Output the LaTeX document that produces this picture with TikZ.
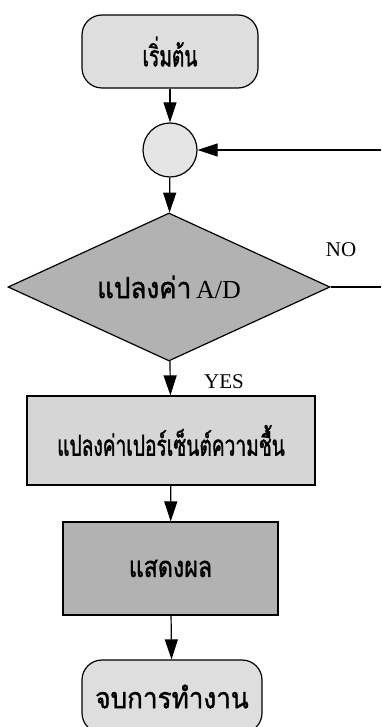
\documentclass[tikz,border=0pt]{standalone}
\usepackage{fontspec}
\setmainfont{Liberation Serif}
\newfontfamily\thaifont[Script=Thai, FakeStretch=0.66, FakeBold=1.2]{Loma}
\newfontfamily\thaimid[Script=Thai, FakeStretch=0.8, FakeBold=1.2]{Loma}
\newfontfamily\thaiwide[Script=Thai, FakeStretch=0.9, FakeBold=1.2]{Loma}
\usetikzlibrary{shapes.geometric, arrows.meta}

\tikzset{
    flowline/.style={line width=1.2pt},
    flowarrow/.style={flowline, -{Triangle[length=20pt,width=13pt]}},
    thaitext/.style={font=\thaifont\fontsize{29}{32}\selectfont},
    termbox/.style={draw, line width=1.2pt, rounded corners=20pt, fill=black!13, inner sep=0pt, thaitext},
    procbox/.style={draw, line width=1.2pt, fill=black!16, inner sep=0pt, thaitext}
}

\begin{document}
\begin{tikzpicture}[x=1pt,y=1pt,yscale=-1,xscale=1]
        \useasboundingbox (0,0) rectangle (381,727);

        % Start
        \node (start) at (170,51.5) [termbox, minimum width=176, minimum height=73] {เริ่มต้น};
        % Junction circle
        \node (join) at (170,150) [circle, draw, line width=1.2pt, fill=black!10, minimum size=54, inner sep=0pt] {};
        % Decision
        \node (dec) at (169,287) [diamond, draw, line width=1.2pt, fill=black!30, shape aspect=2.17, minimum width=322, minimum height=148, inner sep=0pt, font=\thaiwide\fontsize{29}{32}\selectfont] {แปลงค่า\,{\rmfamily\fontsize{26}{28}\selectfont A/D}};
        % Process: convert
        \node (conv) at (171,440.5) [procbox, minimum width=288, minimum height=89] {แปลงค่าเปอร์เซ็นต์ความชื้น};
        % Process: display
        \node (show) at (170.5,568.5) [procbox, fill=black!30, minimum width=215, minimum height=93, font=\thaimid\fontsize{29}{32}\selectfont] {แสดงผล};
        % Stop
        \node (stop) at (172,696.5) [termbox, minimum width=180, minimum height=73, font=\thaiwide\fontsize{29}{32}\selectfont] {จบการทำงาน};

        % Free ends of the loop
        \coordinate (noend) at (381,287);
        \coordinate (loopin) at (381,150);

        % Text Node
        \node (yes) at (224,382) [font=\fontsize{21}{23}\selectfont] {YES};
        % Text Node
        \node (no) at (341,250) [font=\fontsize{21}{23}\selectfont] {NO};

        \draw [flowarrow] (start) -- (join);
        \draw [flowarrow] (join) -- (dec);
        \draw [flowarrow] (dec) -- (conv);
        \draw [flowarrow] (conv) -- (show);
        \draw [flowarrow] (show) -- (stop);
        \draw [flowline] (dec.east) -- (noend);
        \draw [flowarrow] (loopin) -- (join);

\end{tikzpicture}
\end{document}
